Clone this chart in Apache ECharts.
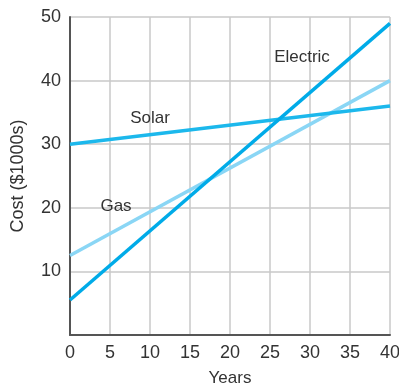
<!DOCTYPE html>
<html>
<head>
<meta charset="utf-8">
<script src="https://cdn.jsdelivr.net/npm/echarts@6/dist/echarts.min.js"></script>
<style>
  html, body { margin: 0; padding: 0; background: #fff; }
  #chart { width: 399px; height: 388px; }
</style>
</head>
<body>
<div id="chart"></div>
<script>
// Cost of heating options over time (thousands of dollars)
const years = [0, 40];
const electric = [5.5, 49];
const solar = [30, 36];
const gas = [12.5, 40];

const xTicks = [0, 5, 10, 15, 20, 25, 30, 35, 40];
const yTicks = [10, 20, 30, 40, 50];

// Inline label positions [year, cost]
const labelElectric = [29, 43.7];
const labelSolar = [10, 34.1];
const labelGas = [5.75, 20.3];

const FONT = 'Liberation Sans, Arial, sans-serif';
const TEXT = '#333';

function pairs(xs, ys) { return xs.map((x, i) => [x, ys[i]]); }

function tag(text, coord) {
  return {
    symbol: 'circle', symbolSize: 0, silent: true,
    data: [{ coord: coord, value: text }],
    label: { show: true, position: 'inside', formatter: text,
             color: TEXT, fontSize: 17, fontFamily: FONT }
  };
}

const chart = echarts.init(document.getElementById('chart'), null, { renderer: 'canvas' });
chart.setOption({
  animation: false,
  grid: { left: 70, right: 9, top: 17, bottom: 53, outerBoundsMode: 'none', containLabel: false },
  xAxis: {
    type: 'value', min: 0, max: 40, interval: 5,
    name: 'Years', nameLocation: 'middle', nameGap: 35,
    nameTextStyle: { color: TEXT, fontSize: 17, fontFamily: FONT },
    axisLine: { show: true, onZero: false, lineStyle: { color: '#555', width: 2 } },
    axisTick: { show: false },
    axisLabel: { color: TEXT, fontSize: 18, fontFamily: FONT, margin: 9,
                 formatter: v => xTicks.includes(v) ? String(v) : '' },
    splitLine: { show: true, lineStyle: { color: '#c8c8c8', width: 1.5 } }
  },
  yAxis: {
    type: 'value', min: 0, max: 50, interval: 10,
    name: 'Cost ($1000s)', nameLocation: 'middle', nameGap: 43,
    nameTextStyle: { color: TEXT, fontSize: 18, fontFamily: FONT },
    axisLine: { show: true, onZero: false, lineStyle: { color: '#555', width: 2 } },
    axisTick: { show: false },
    axisLabel: { color: TEXT, fontSize: 18, fontFamily: FONT, margin: 9,
                 formatter: v => yTicks.includes(v) ? String(v) : '' },
    splitLine: { show: true, lineStyle: { color: '#c8c8c8', width: 1.5 } }
  },
  series: [
    { name: 'Gas', type: 'line', data: pairs(years, gas), showSymbol: false,
      lineStyle: { color: '#8ad6f5', width: 3.5 }, markPoint: tag('Gas', labelGas) },
    { name: 'Solar', type: 'line', data: pairs(years, solar), showSymbol: false,
      lineStyle: { color: '#1cb8ec', width: 3.5 }, markPoint: tag('Solar', labelSolar) },
    { name: 'Electric', type: 'line', data: pairs(years, electric), showSymbol: false,
      lineStyle: { color: '#00abe8', width: 3.5 }, markPoint: tag('Electric', labelElectric) }
  ]
});
</script>
</body>
</html>
